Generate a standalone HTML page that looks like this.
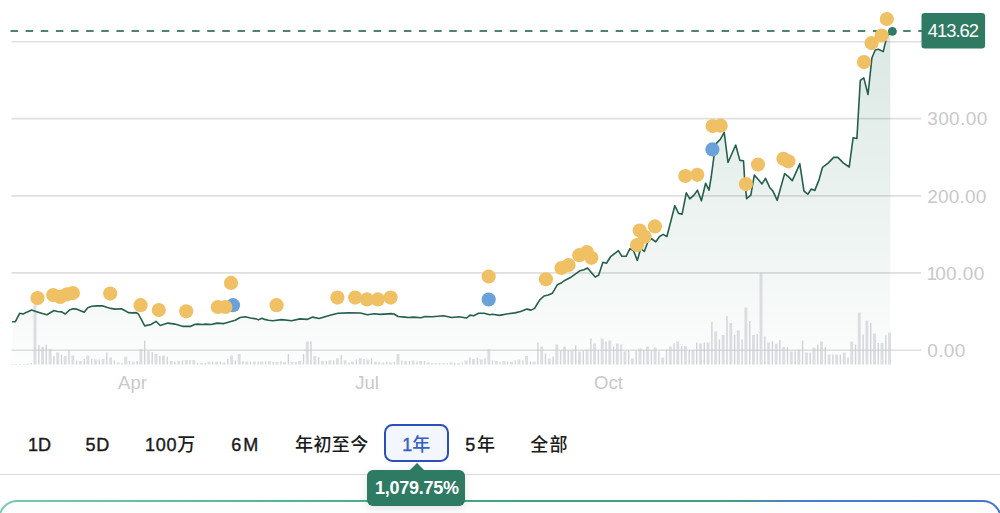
<!DOCTYPE html>
<html lang="zh-CN">
<head>
<meta charset="utf-8">
<title>Chart</title>
<style>
html,body{margin:0;padding:0;background:#fff;}
body{width:1000px;height:513px;overflow:hidden;position:relative;font-family:"Liberation Sans","Noto Sans CJK SC",sans-serif;}
#chart{position:absolute;left:0;top:0;width:1000px;height:513px;display:block;}
.tabs{position:absolute;left:0;top:425.75px;height:38px;width:1000px;}
.tab{position:absolute;top:0;height:38px;line-height:38px;font-size:18px;color:#1b1b1b;white-space:nowrap;letter-spacing:0.4px;font-weight:500;}
.tab i{font-style:normal;letter-spacing:0;-webkit-text-stroke:0.4px currentColor;}
.tab.sel{box-sizing:border-box;top:-1.75px;border:2.7px solid #2a4fbd;border-radius:8.5px;background:#f3f6fc;color:#3560c8;text-align:center;line-height:38.7px;height:38px;}
.divider{position:absolute;left:0;top:473.5px;width:1000px;height:1.4px;background:#dcdcdc;}
.tip{position:absolute;left:367px;top:470px;width:97.6px;height:35.6px;box-sizing:border-box;padding-left:2px;border-radius:6px;background:#2f7a63;color:#fff;font-weight:bold;font-size:18px;line-height:37.6px;text-align:center;letter-spacing:-0.25px;box-shadow:0 2px 8px rgba(0,0,0,0.12);}
.tip:before{content:"";position:absolute;left:41.6px;top:-6.8px;border-left:8px solid transparent;border-right:8px solid transparent;border-bottom:8px solid #2f7a63;}
.card{position:absolute;left:-2.4px;top:499.8px;width:1004.8px;height:60px;box-sizing:border-box;border-radius:19.5px;border:2px solid transparent;background:linear-gradient(#fcfefd,#fcfefd) padding-box,linear-gradient(90deg,#7ac8b1 0%,#4fb08f 33%,#3da47b 52%,#3da47b 72%,#4a7bd2 80%,#4672cd 100%) border-box;}
</style>
</head>
<body>
<svg id="chart" viewBox="0 0 1000 513" width="1000" height="513">
<defs>
<linearGradient id="ag" gradientUnits="userSpaceOnUse" x1="0" y1="30" x2="0" y2="364">
<stop offset="0" stop-color="#2f7a63" stop-opacity="0.175"/>
<stop offset="0.6" stop-color="#2f7a63" stop-opacity="0.082"/>
<stop offset="0.9" stop-color="#2f7a63" stop-opacity="0.03"/>
<stop offset="1" stop-color="#2f7a63" stop-opacity="0.012"/>
</linearGradient>
</defs>
<g stroke="#dfdfdf" stroke-width="1.6" fill="none">
<path d="M11.5 41.7H921.2 M11.5 118.6H921.2 M11.5 195.85H921.2 M11.5 272.85H921.2 M11.5 350.2H921.2"/>
</g>
<clipPath id="ac"><rect x="0" y="0" width="890.3" height="400"/></clipPath>
<path d="M12.6 321.7 L15.4 321.7 L19.6 313.3 L23.1 314 L27.3 311.9 L31.6 310.1 L35.1 311.2 L40.7 312.9 L47 314.7 L54 310.5 L57.5 311.5 L61.7 311.9 L65.2 314 L69.4 310.1 L72.9 308.7 L76.4 309.1 L79.9 310.5 L84.2 312.3 L87.7 307.7 L91.9 306.3 L96.8 305.9 L103.1 305.9 L106.6 307.3 L110.8 308.4 L115 309.1 L121.3 308.7 L124.8 310.5 L128.3 312.6 L132.5 312.9 L136.3 312.6 L138.4 314 L144.7 325.9 L151 324.5 L156 321.3 L160.2 325.5 L167.9 323.1 L174.9 324.1 L183.3 326.4 L190.3 326.4 L194.5 324.5 L197.3 324.1 L203 324.5 L205.7 324.1 L211.3 324.5 L217 323.1 L224 323.6 L228.2 322.2 L235.2 320.3 L240.1 317.5 L245 316.8 L250.6 318 L256.2 318.9 L258.3 319.9 L261.8 318.2 L264.6 319.4 L268.5 320.3 L272.7 320.8 L281.8 319.6 L291.6 320.8 L300 318.9 L307 319.4 L312.7 317.1 L319 318.5 L331 315.1 L338 313.3 L349 312.9 L360.4 313 L367.4 314.7 L374.4 313.7 L380 314.4 L391.2 313.6 L394 314 L398.2 316.5 L405 317.1 L408.4 317.5 L414 317.1 L421 317.7 L425.2 316.5 L432.3 316.8 L443.5 315.8 L451.9 317.5 L458.9 316.8 L466.6 318 L470.1 315.1 L473.6 315.7 L478.5 313.3 L484.2 313.3 L489.8 314.7 L492.6 314.3 L499.6 315.4 L506.6 314 L515 312.9 L520.6 311.5 L526.9 309.1 L531.1 310.1 L534.6 308.4 L537.5 303.5 L539.8 299.8 L544 296 L548.2 295 L552.4 293.2 L557.3 284.8 L561.6 282.7 L565.1 280.2 L570 277.8 L574.9 274.3 L579.8 270.8 L584 269.8 L587.5 268 L595.2 277.1 L598.7 275 L602.9 262.3 L606.4 263.3 L610.6 256.7 L618.4 250.7 L621.9 256.3 L626.1 256.3 L629.9 248.7 L633.5 250.5 L637.3 260.5 L640.8 248.3 L644.3 251.5 L647.8 242 L651.3 238.5 L655.7 241.8 L659.6 236.5 L663.1 234.4 L666.9 236.5 L674.8 205.7 L678.6 213.4 L682.1 214.1 L686.3 192.8 L689.8 198.9 L694 195.1 L697.5 190.2 L701.4 200.8 L705.6 183.2 L709 190.2 L711.2 177 L714 156.2 L716.1 143.6 L720.3 139.4 L724.2 132.3 L728 162.5 L735.7 145 L739.9 160.4 L743.5 160.8 L744.5 176.9 L746.6 198.6 L750.8 195.1 L754.3 175.1 L758.5 179.7 L762 183.9 L765.5 178.3 L769.7 187.4 L773.2 191.6 L777.2 200.3 L784.6 173.6 L788.1 176.4 L792.3 180.6 L799.8 163.8 L804 191.1 L807.8 194.2 L811.3 189 L814.8 190.4 L819 179.9 L822.5 167.3 L828.1 163.1 L833.7 157.4 L837.9 157.4 L843.5 163.1 L849.2 167 L853.1 137.8 L856.9 138.5 L860.3 80.4 L863.8 77.9 L868 94.5 L871.9 58 L875.2 50 L878.4 49.2 L883.2 51.6 L887 36 L892.4 31.4 L892.4 364.5 L12.6 364.5 Z" fill="url(#ag)" stroke="none" clip-path="url(#ac)"/>
<path d="M12.3 364.5 v-0.6 M19.9 364.5 v-0.6 M27.4 364.5 v-0.8 M35 364.5 v-60 M42.6 364.5 v-17.5 M50.1 364.5 v-15.4 M57.7 364.5 v-12 M65.2 364.5 v-8.4 M72.8 364.5 v-9 M80.4 364.5 v-3.5 M87.9 364.5 v-9 M95.5 364.5 v-5 M103.1 364.5 v-5.6 M110.6 364.5 v-7 M118.2 364.5 v-2 M125.8 364.5 v-7.7 M133.3 364.5 v-2.8 M140.9 364.5 v-15.4 M148.4 364.5 v-13.3 M156 364.5 v-10.5 M163.6 364.5 v-9 M171.1 364.5 v-3.5 M178.7 364.5 v-3.5 M186.3 364.5 v-4.5 M193.8 364.5 v-4.5 M201.4 364.5 v-1.4 M208.9 364.5 v-2.8 M216.5 364.5 v-2.8 M224.1 364.5 v-2 M231.6 364.5 v-9 M239.2 364.5 v-10.5 M246.8 364.5 v-3 M254.3 364.5 v-3 M261.9 364.5 v-3 M269.4 364.5 v-3.5 M277 364.5 v-2.5 M284.6 364.5 v-2.5 M292.1 364.5 v-2.5 M299.7 364.5 v-3.5 M307.3 364.5 v-23 M314.8 364.5 v-8.4 M322.4 364.5 v-3.5 M329.9 364.5 v-4.2 M337.5 364.5 v-6.3 M345.1 364.5 v-4.2 M352.6 364.5 v-2.8 M360.2 364.5 v-6.3 M367.8 364.5 v-5 M375.3 364.5 v-2.8 M382.9 364.5 v-2 M390.4 364.5 v-2 M398 364.5 v-10.5 M405.6 364.5 v-3.5 M413.1 364.5 v-4 M420.7 364.5 v-3.5 M428.3 364.5 v-2 M435.8 364.5 v-1.2 M443.4 364.5 v-1.2 M451 364.5 v-2 M458.5 364.5 v-1.2 M466.1 364.5 v-4 M473.6 364.5 v-5.6 M481.2 364.5 v-5 M488.8 364.5 v-15.4 M496.3 364.5 v-3.5 M503.9 364.5 v-3.5 M511.5 364.5 v-2.8 M519 364.5 v-5 M526.6 364.5 v-8.4 M534.1 364.5 v-2.8 M541.7 364.5 v-18 M549.3 364.5 v-6 M556.8 364.5 v-20 M564.4 364.5 v-18 M572 364.5 v-14 M579.5 364.5 v-13 M587.1 364.5 v-15 M594.6 364.5 v-21 M602.2 364.5 v-26 M609.8 364.5 v-24 M617.3 364.5 v-21 M624.9 364.5 v-13 M632.5 364.5 v-6 M640 364.5 v-16 M647.6 364.5 v-18 M655.1 364.5 v-17 M662.7 364.5 v-7 M670.3 364.5 v-18 M677.8 364.5 v-23 M685.4 364.5 v-18.5 M693 364.5 v-14 M700.5 364.5 v-21 M708.1 364.5 v-22 M715.7 364.5 v-33 M723.2 364.5 v-29.5 M730.8 364.5 v-41.5 M738.3 364.5 v-34 M745.9 364.5 v-57 M753.5 364.5 v-29.5 M761 364.5 v-91.7 M768.6 364.5 v-22 M776.2 364.5 v-20.7 M783.7 364.5 v-17.5 M791.3 364.5 v-13 M798.8 364.5 v-15 M806.4 364.5 v-12 M814 364.5 v-17 M821.5 364.5 v-23 M829.1 364.5 v-10 M836.7 364.5 v-10 M844.2 364.5 v-12 M851.8 364.5 v-23 M859.3 364.5 v-52 M866.9 364.5 v-44 M874.5 364.5 v-31 M882 364.5 v-21.5 M889.6 364.5 v-32" stroke="#cdcfd5" stroke-opacity="0.68" stroke-width="2.9" fill="none"/>
<path d="M16.1 364.5 v-0.6 M23.7 364.5 v-0.6 M31.2 364.5 v-1.5 M38.8 364.5 v-19.6 M46.3 364.5 v-20 M53.9 364.5 v-8.4 M61.5 364.5 v-9.8 M69 364.5 v-14.7 M76.6 364.5 v-4 M84.2 364.5 v-5.6 M91.7 364.5 v-5.6 M99.3 364.5 v-5 M106.8 364.5 v-12 M114.4 364.5 v-4 M122 364.5 v-1.4 M129.5 364.5 v-3.5 M137.1 364.5 v-3.5 M144.7 364.5 v-23.8 M152.2 364.5 v-12.6 M159.8 364.5 v-8.4 M167.3 364.5 v-7.7 M174.9 364.5 v-2.8 M182.5 364.5 v-4.2 M190 364.5 v-4.5 M197.6 364.5 v-2 M205.2 364.5 v-1.7 M212.7 364.5 v-2.8 M220.3 364.5 v-2.8 M227.8 364.5 v-5.6 M235.4 364.5 v-4.2 M243 364.5 v-3.5 M250.5 364.5 v-3 M258.1 364.5 v-3 M265.7 364.5 v-3 M273.2 364.5 v-2.5 M280.8 364.5 v-3 M288.4 364.5 v-10.5 M295.9 364.5 v-2.5 M303.5 364.5 v-10.5 M311 364.5 v-23 M318.6 364.5 v-7.7 M326.2 364.5 v-3.5 M333.7 364.5 v-4.2 M341.3 364.5 v-9.8 M348.9 364.5 v-2 M356.4 364.5 v-5 M364 364.5 v-5.6 M371.5 364.5 v-6.3 M379.1 364.5 v-2.5 M386.7 364.5 v-2.5 M394.2 364.5 v-2.5 M401.8 364.5 v-4 M409.4 364.5 v-3.5 M416.9 364.5 v-3 M424.5 364.5 v-3.5 M432 364.5 v-1.5 M439.6 364.5 v-1.5 M447.2 364.5 v-1.5 M454.7 364.5 v-1.5 M462.3 364.5 v-2 M469.9 364.5 v-7 M477.4 364.5 v-7 M485 364.5 v-6.3 M492.5 364.5 v-4 M500.1 364.5 v-2.8 M507.7 364.5 v-2.8 M515.2 364.5 v-4.2 M522.8 364.5 v-4.2 M530.4 364.5 v-2.8 M537.9 364.5 v-22 M545.5 364.5 v-11 M553.1 364.5 v-8 M560.6 364.5 v-14 M568.2 364.5 v-14 M575.7 364.5 v-19 M583.3 364.5 v-14 M590.9 364.5 v-26 M598.4 364.5 v-14 M606 364.5 v-23 M613.6 364.5 v-18 M621.1 364.5 v-20 M628.7 364.5 v-14 M636.2 364.5 v-14 M643.8 364.5 v-14 M651.4 364.5 v-14 M658.9 364.5 v-13 M666.5 364.5 v-15 M674.1 364.5 v-21 M681.6 364.5 v-18.5 M689.2 364.5 v-14 M696.7 364.5 v-22 M704.3 364.5 v-22 M711.9 364.5 v-42.5 M719.4 364.5 v-25 M727 364.5 v-48.5 M734.6 364.5 v-29.5 M742.1 364.5 v-25 M749.7 364.5 v-43.6 M757.2 364.5 v-30.5 M764.8 364.5 v-28 M772.4 364.5 v-23.5 M779.9 364.5 v-24.5 M787.5 364.5 v-17.5 M795.1 364.5 v-13 M802.6 364.5 v-24 M810.2 364.5 v-12 M817.7 364.5 v-20 M825.3 364.5 v-17.5 M832.9 364.5 v-10 M840.4 364.5 v-10 M848 364.5 v-7 M855.6 364.5 v-20 M863.1 364.5 v-30 M870.7 364.5 v-41.5 M878.3 364.5 v-21.5 M885.8 364.5 v-29" stroke="#c6c8cf" stroke-opacity="0.8" stroke-width="1.4" fill="none"/>
<path d="M10.5 31H922" stroke="#4f8371" stroke-width="1.8" stroke-dasharray="7.5 7.63" fill="none"/>
<path d="M12.6 321.7 L15.4 321.7 L19.6 313.3 L23.1 314 L27.3 311.9 L31.6 310.1 L35.1 311.2 L40.7 312.9 L47 314.7 L54 310.5 L57.5 311.5 L61.7 311.9 L65.2 314 L69.4 310.1 L72.9 308.7 L76.4 309.1 L79.9 310.5 L84.2 312.3 L87.7 307.7 L91.9 306.3 L96.8 305.9 L103.1 305.9 L106.6 307.3 L110.8 308.4 L115 309.1 L121.3 308.7 L124.8 310.5 L128.3 312.6 L132.5 312.9 L136.3 312.6 L138.4 314 L144.7 325.9 L151 324.5 L156 321.3 L160.2 325.5 L167.9 323.1 L174.9 324.1 L183.3 326.4 L190.3 326.4 L194.5 324.5 L197.3 324.1 L203 324.5 L205.7 324.1 L211.3 324.5 L217 323.1 L224 323.6 L228.2 322.2 L235.2 320.3 L240.1 317.5 L245 316.8 L250.6 318 L256.2 318.9 L258.3 319.9 L261.8 318.2 L264.6 319.4 L268.5 320.3 L272.7 320.8 L281.8 319.6 L291.6 320.8 L300 318.9 L307 319.4 L312.7 317.1 L319 318.5 L331 315.1 L338 313.3 L349 312.9 L360.4 313 L367.4 314.7 L374.4 313.7 L380 314.4 L391.2 313.6 L394 314 L398.2 316.5 L405 317.1 L408.4 317.5 L414 317.1 L421 317.7 L425.2 316.5 L432.3 316.8 L443.5 315.8 L451.9 317.5 L458.9 316.8 L466.6 318 L470.1 315.1 L473.6 315.7 L478.5 313.3 L484.2 313.3 L489.8 314.7 L492.6 314.3 L499.6 315.4 L506.6 314 L515 312.9 L520.6 311.5 L526.9 309.1 L531.1 310.1 L534.6 308.4 L537.5 303.5 L539.8 299.8 L544 296 L548.2 295 L552.4 293.2 L557.3 284.8 L561.6 282.7 L565.1 280.2 L570 277.8 L574.9 274.3 L579.8 270.8 L584 269.8 L587.5 268 L595.2 277.1 L598.7 275 L602.9 262.3 L606.4 263.3 L610.6 256.7 L618.4 250.7 L621.9 256.3 L626.1 256.3 L629.9 248.7 L633.5 250.5 L637.3 260.5 L640.8 248.3 L644.3 251.5 L647.8 242 L651.3 238.5 L655.7 241.8 L659.6 236.5 L663.1 234.4 L666.9 236.5 L674.8 205.7 L678.6 213.4 L682.1 214.1 L686.3 192.8 L689.8 198.9 L694 195.1 L697.5 190.2 L701.4 200.8 L705.6 183.2 L709 190.2 L711.2 177 L714 156.2 L716.1 143.6 L720.3 139.4 L724.2 132.3 L728 162.5 L735.7 145 L739.9 160.4 L743.5 160.8 L744.5 176.9 L746.6 198.6 L750.8 195.1 L754.3 175.1 L758.5 179.7 L762 183.9 L765.5 178.3 L769.7 187.4 L773.2 191.6 L777.2 200.3 L784.6 173.6 L788.1 176.4 L792.3 180.6 L799.8 163.8 L804 191.1 L807.8 194.2 L811.3 189 L814.8 190.4 L819 179.9 L822.5 167.3 L828.1 163.1 L833.7 157.4 L837.9 157.4 L843.5 163.1 L849.2 167 L853.1 137.8 L856.9 138.5 L860.3 80.4 L863.8 77.9 L868 94.5 L871.9 58 L875.2 50 L878.4 49.2 L883.2 51.6 L887 36 L892.4 31.4" fill="none" stroke="#255f4e" stroke-width="1.6" stroke-linejoin="round" stroke-linecap="round"/>
<circle cx="37.5" cy="298.1" r="7.1" fill="#f0c164"/><circle cx="53.2" cy="295.1" r="7.1" fill="#f0c164"/><circle cx="60.3" cy="296.9" r="7.1" fill="#f0c164"/><circle cx="67.1" cy="294.3" r="7.1" fill="#f0c164"/><circle cx="72.9" cy="293.1" r="7.1" fill="#f0c164"/><circle cx="110.2" cy="293.6" r="7.1" fill="#f0c164"/><circle cx="140.6" cy="305.2" r="7.1" fill="#f0c164"/><circle cx="158.8" cy="310.1" r="7.1" fill="#f0c164"/><circle cx="186.2" cy="311.3" r="7.1" fill="#f0c164"/><circle cx="217.8" cy="307" r="7.1" fill="#f0c164"/><circle cx="276.6" cy="305.2" r="7.1" fill="#f0c164"/><circle cx="337.4" cy="297.6" r="7.1" fill="#f0c164"/><circle cx="355.1" cy="297.6" r="7.1" fill="#f0c164"/><circle cx="367" cy="299.4" r="7.1" fill="#f0c164"/><circle cx="377.9" cy="299.4" r="7.1" fill="#f0c164"/><circle cx="390.6" cy="297.6" r="7.1" fill="#f0c164"/><circle cx="488.7" cy="276.5" r="7.1" fill="#f0c164"/><circle cx="545.9" cy="279.3" r="7.1" fill="#f0c164"/><circle cx="561.5" cy="268" r="7.1" fill="#f0c164"/><circle cx="568.6" cy="265" r="7.1" fill="#f0c164"/><circle cx="579.3" cy="255.2" r="7.1" fill="#f0c164"/><circle cx="586.9" cy="252" r="7.1" fill="#f0c164"/><circle cx="591.4" cy="257.8" r="7.1" fill="#f0c164"/><circle cx="637" cy="245.1" r="7.1" fill="#f0c164"/><circle cx="639.7" cy="230.5" r="7.1" fill="#f0c164"/><circle cx="644.6" cy="236.7" r="7.1" fill="#f0c164"/><circle cx="654.9" cy="226.4" r="7.1" fill="#f0c164"/><circle cx="685.3" cy="176" r="7.1" fill="#f0c164"/><circle cx="697.3" cy="174.8" r="7.1" fill="#f0c164"/><circle cx="712.6" cy="126.1" r="7.1" fill="#f0c164"/><circle cx="720.7" cy="125.7" r="7.1" fill="#f0c164"/><circle cx="745.9" cy="184.1" r="7.1" fill="#f0c164"/><circle cx="758" cy="164.6" r="7.1" fill="#f0c164"/><circle cx="783.4" cy="158.8" r="7.1" fill="#f0c164"/><circle cx="788.4" cy="161.3" r="7.1" fill="#f0c164"/><circle cx="864" cy="62.1" r="7.1" fill="#f0c164"/><circle cx="871.6" cy="43.1" r="7.1" fill="#f0c164"/><circle cx="881.7" cy="35.5" r="7.1" fill="#f0c164"/><circle cx="886.8" cy="19" r="7.1" fill="#f0c164"/><circle cx="233" cy="305.2" r="7.1" fill="#69a1d9"/><circle cx="225.4" cy="307" r="7.1" fill="#f0c164"/><circle cx="231" cy="282.9" r="7.1" fill="#f0c164"/><circle cx="488.7" cy="299.5" r="7.1" fill="#69a1d9"/><circle cx="712.4" cy="149.4" r="7.1" fill="#69a1d9"/>
<circle cx="892.4" cy="31.4" r="4.4" fill="#2f7a63"/>
<rect x="921.5" y="13" width="63.6" height="35.4" rx="3.2" fill="#2f7a63"/>
<g font-family="'Liberation Sans', sans-serif">
<text x="952.9" y="36.8" font-size="18.4" fill="#ffffff" text-anchor="middle" letter-spacing="-1">413.62</text>
<g font-size="19" fill="#c9c9c9" text-anchor="start" letter-spacing="0.4">
<text x="927.2" y="125.2">300.00</text>
<text x="927.2" y="202.5" letter-spacing="0.2">200.00</text>
<text x="926.6" y="279.5">1<tspan dx="-2.4">00.00</tspan></text>
<text x="927.2" y="356.9">0.00</text>
</g>
<g font-size="18.5" fill="#c9c9c9" text-anchor="middle">
<text x="132.5" y="388.5">Apr</text>
<text x="367" y="388.5">Jul</text>
<text x="608.5" y="388.5">Oct</text>
</g>
</g>
</svg>
<div class="tabs">
<div class="tab" style="left:28px"><i>1D</i></div>
<div class="tab" style="left:85.5px"><i style="letter-spacing:0.8px">5D</i></div>
<div class="tab" style="left:145px"><i style="letter-spacing:0.7px">100</i>万</div>
<div class="tab" style="left:231.3px"><i style="letter-spacing:2px">6M</i></div>
<div class="tab" style="left:295px">年初至今</div>
<div class="tab sel" style="left:384px;width:65px"><i>1</i>年</div>
<div class="tab" style="left:465.3px"><i style="margin-right:1.8px">5</i>年</div>
<div class="tab" style="left:530.3px;letter-spacing:1.2px">全部</div>
</div>
<div class="divider"></div>
<div class="card"></div>
<div class="tip">1,079.75%</div>
</body>
</html>
